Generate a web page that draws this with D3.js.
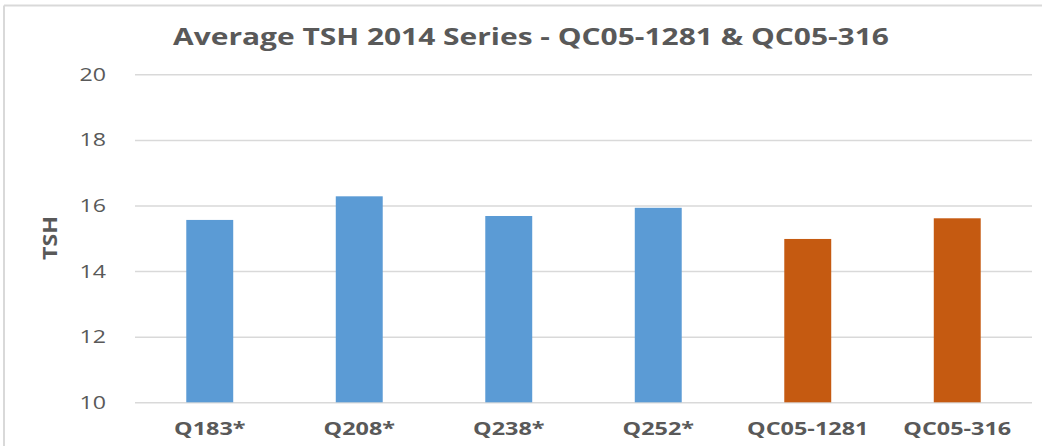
<!DOCTYPE html>
<html><head><meta charset="utf-8">
<script src="https://cdn.jsdelivr.net/npm/d3@7"></script>
<style>body{margin:0;background:#fff;overflow:hidden}</style>
</head><body>
<svg id="c" width="1042" height="446"></svg>
<script>
const categories = ["Q183*", "Q208*", "Q238*", "Q252*", "QC05-1281", "QC05-316"];
const values = [15.56, 16.28, 15.68, 15.93, 14.98, 15.61];
const groups = ["2014", "2014", "2014", "2014", "QC05", "QC05"];
const yTicks = [10, 12, 14, 16, 18, 20];
const titleText = "Average TSH 2014 Series - QC05-1281 & QC05-316";
const yTitle = "TSH";

const svg = d3.select("#c");
const W = 1042, H = 446;
const x = d3.scaleBand().domain(categories).range([135, 1032]).paddingInner(0.686).paddingOuter(0.343);
const y = d3.scaleLinear().domain([10, 20]).range([402.3, 74.3]);
const color = d3.scaleOrdinal().domain(["2014", "QC05"]).range(["#5B9BD5", "#C55A11"]);
function fit(k) { return sel => sel.each(function () { const l = this.getComputedTextLength(); d3.select(this).attr("textLength", l * k).attr("lengthAdjust", "spacingAndGlyphs"); }); }

// border
svg.append("line").attr("x1", 4).attr("x2", 4).attr("y1", 5.5).attr("y2", H).attr("stroke", "#d9d9d9").attr("stroke-width", 2);
svg.append("line").attr("x1", 4).attr("x2", W).attr("y1", 5.5).attr("y2", 5.5).attr("stroke", "#d9d9d9").attr("stroke-width", 2);

// grid
const ga = svg.append("g").attr("transform", "translate(135,0)")
  .call(d3.axisLeft(y).tickValues(yTicks).tickSize(-(1032 - 135)).tickFormat(d3.format("d")));
ga.select(".domain").remove();
ga.selectAll(".tick line").attr("stroke", "#d9d9d9").attr("stroke-width", 1.5);
ga.selectAll(".tick text").attr("x", -29).attr("fill", "#595959").attr("font-family", "Open Sans").attr("font-size", 19).call(fit(1.22));

// bars
svg.append("g").selectAll("rect").data(categories).join("rect")
  .attr("x", d => x(d)).attr("width", x.bandwidth())
  .attr("y", (d, i) => y(values[i])).attr("height", (d, i) => y(10) - y(values[i]))
  .attr("fill", (d, i) => color(groups[i]));

// x labels
const xa = svg.append("g").attr("transform", "translate(0,402.3)").call(d3.axisBottom(x).tickSize(0));
xa.select(".domain").remove();
xa.selectAll(".tick text").attr("y", 0).attr("dy", 33).attr("fill", "#595959").attr("font-family", "Open Sans").attr("font-weight", "bold").attr("font-size", 18).call(fit(1.3));

// title
svg.append("text").attr("x", 531).attr("y", 45).attr("text-anchor", "middle").attr("fill", "#595959")
  .attr("font-family", "Open Sans").attr("font-weight", "bold").attr("font-size", 22.5).text(titleText).call(fit(1.33));

// y title
svg.append("text").attr("transform", "translate(57,238) rotate(-90)").attr("text-anchor", "middle").attr("fill", "#595959")
  .attr("font-family", "Open Sans").attr("font-weight", "bold").attr("font-size", 19).text(yTitle).call(fit(1.22));
</script>
</body></html>
